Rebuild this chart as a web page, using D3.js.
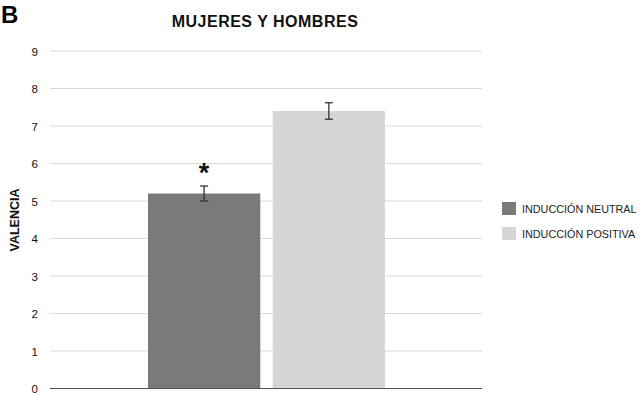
<!DOCTYPE html>
<html>
<head>
<meta charset="utf-8">
<script src="https://cdn.jsdelivr.net/npm/d3@7"></script>
<style>
  html, body { margin: 0; padding: 0; background: #fff; }
  svg text { font-family: "Liberation Sans", Arial, Helvetica, sans-serif; }
</style>
</head>
<body>
<svg id="chart" width="642" height="396"></svg>
<script>
// Valencia por tipo de inducción (media ± error)
const categories = ["INDUCCIÓN NEUTRAL", "INDUCCIÓN POSITIVA"];
const means = [5.2, 7.4];
const errors = [0.2, 0.22];
const colors = ["#7a7a7a", "#d6d6d6"];
const significant = [true, false];
const yTicks = [0, 1, 2, 3, 4, 5, 6, 7, 8, 9];

const svg = d3.select("#chart");
const plotLeft = 50, plotRight = 482, plotTop = 51, plotBottom = 388.5;

const y = d3.scaleLinear().domain([0, 9]).range([plotBottom, plotTop]);
const x = d3.scaleBand().domain(categories).range([148, 385]).paddingInner(0.1).paddingOuter(0);

// gridlines
svg.append("g").selectAll("line").data(yTicks.filter(d => d > 0)).join("line")
  .attr("x1", plotLeft).attr("x2", plotRight)
  .attr("y1", d => y(d)).attr("y2", d => y(d))
  .attr("stroke", "#d9d9d9").attr("stroke-width", 1);

// y axis tick labels
const yAxis = d3.axisLeft(y).tickValues(yTicks).tickSize(0).tickPadding(0);
const ga = svg.append("g").attr("transform", `translate(${plotLeft - 12},0)`).call(yAxis);
ga.select(".domain").remove();
ga.selectAll("text").attr("font-size", 11.5).attr("fill", "#111").attr("dy", "0.35em");

// bars
svg.append("g").selectAll("rect").data(categories).join("rect")
  .attr("x", d => x(d)).attr("width", x.bandwidth())
  .attr("y", (d, i) => y(means[i])).attr("height", (d, i) => plotBottom - y(means[i]))
  .attr("fill", (d, i) => colors[i]);

// error bars
const eb = svg.append("g").attr("stroke", "#333").attr("stroke-width", 1.3);
categories.forEach((c, i) => {
  const cx = x(c) + x.bandwidth() / 2;
  const y1 = y(means[i] + errors[i]), y2 = y(means[i] - errors[i]);
  eb.append("line").attr("x1", cx).attr("x2", cx).attr("y1", y1).attr("y2", y2);
  eb.append("line").attr("x1", cx - 4).attr("x2", cx + 4).attr("y1", y1).attr("y2", y1);
  eb.append("line").attr("x1", cx - 4).attr("x2", cx + 4).attr("y1", y2).attr("y2", y2);
  if (significant[i]) {
    svg.append("text").attr("x", cx).attr("y", y1 - 4)
      .attr("text-anchor", "middle").attr("font-size", 27).attr("font-weight", "bold")
      .attr("fill", "#111").text("*");
  }
});

// baseline
svg.append("line").attr("x1", plotLeft).attr("x2", plotRight)
  .attr("y1", plotBottom).attr("y2", plotBottom)
  .attr("stroke", "#555").attr("stroke-width", 1.2);

// title and panel letter
svg.append("text").attr("x", 265).attr("y", 27).attr("text-anchor", "middle")
  .attr("font-size", 16).attr("font-weight", "bold").attr("letter-spacing", 0.5)
  .attr("fill", "#111").text("MUJERES Y HOMBRES");
svg.append("text").attr("x", 1).attr("y", 23)
  .attr("font-size", 24).attr("font-weight", "bold").attr("fill", "#000").text("B");

// y axis title
svg.append("text").attr("transform", "translate(19,220) rotate(-90)")
  .attr("text-anchor", "middle").attr("font-size", 12.5).attr("font-weight", "bold")
  .attr("fill", "#111").text("VALENCIA");

// legend
const lg = svg.append("g").attr("transform", "translate(502,202)");
categories.forEach((c, i) => {
  const g = lg.append("g").attr("transform", `translate(0,${i * 25})`);
  g.append("rect").attr("width", 14).attr("height", 13).attr("fill", colors[i]);
  g.append("text").attr("x", 20).attr("y", 7).attr("dy", "0.35em")
    .attr("font-size", 10.8).attr("fill", "#222").text(c);
});
</script>
</body>
</html>
